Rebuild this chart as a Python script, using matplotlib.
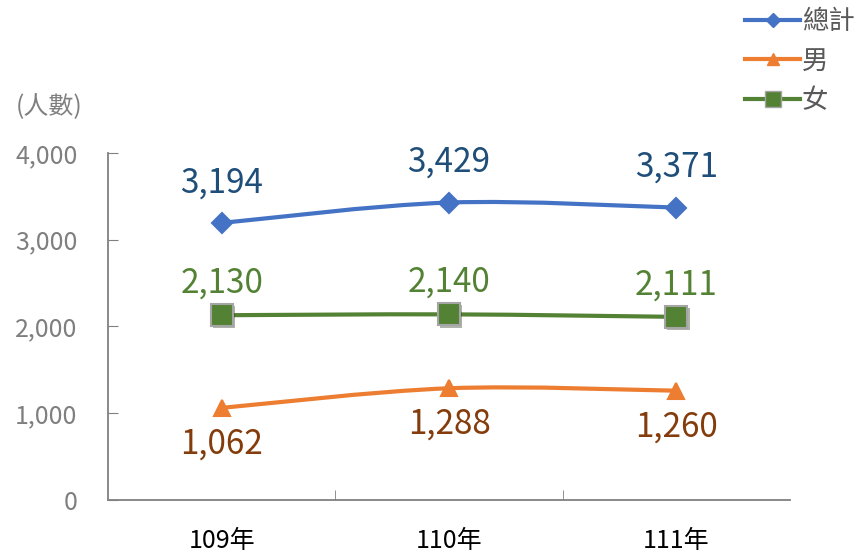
import matplotlib.pyplot as plt
import matplotlib.patheffects as pe
import numpy as np
from matplotlib.path import Path
from matplotlib.patches import PathPatch
from matplotlib.lines import Line2D

plt.rcParams['font.family'] = ['Noto Sans CJK TC', 'DejaVu Sans']

years = ['109年', '110年', '111年']
total = [3194, 3429, 3371]
male = [1062, 1288, 1260]
female = [2130, 2140, 2111]


def smooth_path(xs, ys):
    # Excel-style smoothed line: Catmull-Rom segments as cubic Beziers
    pts = np.column_stack([xs, ys]).astype(float)
    n = len(pts)
    verts = [pts[0]]
    codes = [Path.MOVETO]
    for i in range(n - 1):
        p0 = pts[i - 1] if i > 0 else pts[i]
        p1, p2 = pts[i], pts[i + 1]
        p3 = pts[i + 2] if i + 2 < n else pts[i + 1]
        c1 = p1 + (p2 - p0) / 6
        c2 = p2 - (p3 - p1) / 6
        verts += [c1, c2, p2]
        codes += [Path.CURVE4] * 3
    return Path(verts, codes)


fig = plt.figure(figsize=(8.6, 5.54), dpi=100)
ax = fig.add_axes([0.1256, 0.0975, 0.793, 0.6263])

x = np.arange(len(years))
series = [
    (total, '總計', '#4472C4', 'D', 10, '#4472C4', '#1F4E79', 29),
    (male, '男', '#ED7D31', '^', 12, '#ED7D31', '#843C0C', -26),
    (female, '女', '#548235', 's', 16, '#A5A5A5', '#548235', 23),
]

shadow = [pe.SimplePatchShadow(offset=(1.5, -1.5), alpha=0.35), pe.Normal()]

handles = []
for vals, name, col, mk, ms, ec, lc, off in series:
    ax.add_patch(PathPatch(smooth_path(x, vals), fill=False, edgecolor=col,
                           lw=3, capstyle='round', zorder=2))
    pts = ax.plot(x, vals, linestyle='none', marker=mk, markersize=ms,
                  markerfacecolor=col, markeredgecolor=ec, markeredgewidth=1.5, zorder=3)[0]
    if mk == 's':
        pts.set_path_effects(shadow)
    for xi, v in zip(x, vals):
        ax.annotate(f'{v:,}', (xi, v), xytext=(0, off), textcoords='offset points',
                    ha='center', va='center', fontsize=24, color=lc)
    handles.append(Line2D([], [], color=col, lw=3, marker=mk, markersize=ms * 0.75,
                          markerfacecolor=col, markeredgecolor=ec, label=name))

ax.set_xlim(-0.5, 2.5)
ax.set_ylim(0, 4000)
ax.set_yticks([0, 1000, 2000, 3000, 4000])
ax.set_yticklabels([f'{t:,}' for t in [0, 1000, 2000, 3000, 4000]])
ax.set_xticks(x)
ax.set_xticklabels(years)
ax.set_xticks([0.5, 1.5], minor=True)

for s in ['top', 'right']:
    ax.spines[s].set_visible(False)
for s in ['left', 'bottom']:
    ax.spines[s].set_color('#808080')
    ax.spines[s].set_linewidth(1.3)

ax.tick_params(axis='y', direction='in', length=7, color='#808080',
               labelsize=18, labelcolor='#7F7F7F', pad=22)
ax.tick_params(axis='x', which='major', length=0, labelsize=18,
               labelcolor='#000000', pad=20)
ax.tick_params(axis='x', which='minor', direction='in', length=7, color='#808080')

fig.text(0.018, 0.807, '(人數)', fontsize=18, color='#7F7F7F', ha='left', va='center')

fig.legend(handles=handles, loc='upper right', bbox_to_anchor=(1.012, 1.014),
           frameon=False, fontsize=19, labelcolor='#595959', handlelength=2.1,
           handletextpad=0.05, labelspacing=0.47, borderaxespad=0.2)

fig.savefig('out.png', dpi=100)
